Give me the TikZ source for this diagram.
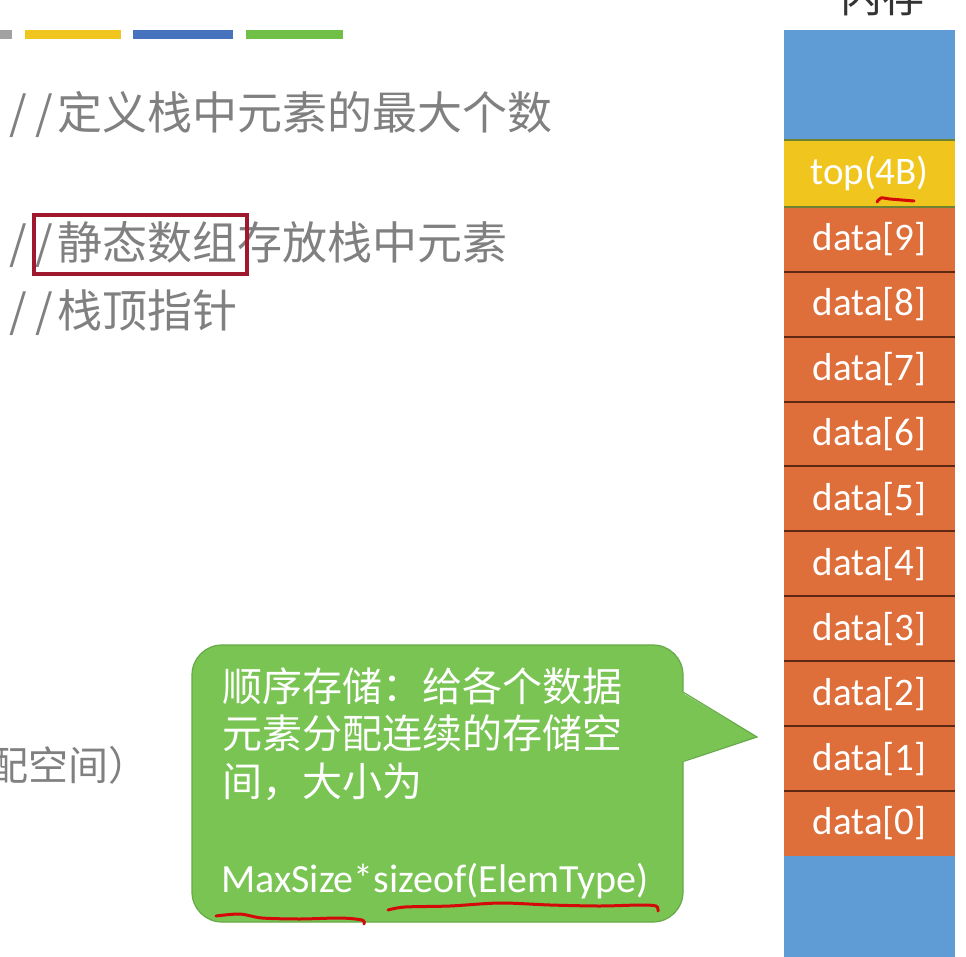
\documentclass[tikz,border=0pt]{standalone}
\usepackage{fontspec}
\usepackage{tikz}
\usetikzlibrary{calc}
\setmainfont{Carlito}
\newfontfamily\cjk{Noto Sans CJK SC}
\definecolor{memblue}{RGB}{95, 155, 212}
\definecolor{memyellow}{RGB}{240, 198, 30}
\definecolor{memorange}{RGB}{222, 110, 58}
\definecolor{sepdark}{RGB}{95, 40, 18}
\definecolor{sepgreen}{RGB}{110, 130, 50}
\definecolor{notegreen}{RGB}{122, 196, 84}
\definecolor{noteedge}{RGB}{100, 170, 70}
\definecolor{textgray}{RGB}{128, 128, 128}
\definecolor{boxred}{RGB}{160, 24, 45}
\definecolor{penred}{RGB}{212, 10, 10}
\definecolor{barblue}{RGB}{70, 114, 190}
\definecolor{bargreen}{RGB}{112, 192, 72}
\newcommand{\cmtmark}{\makebox[26pt]{/}\makebox[26pt]{/}}
\tikzset{
  cell/.style={minimum width=171pt, minimum height=64.9pt, inner sep=0pt,
    text=white, font=\fontsize{39}{39}\selectfont},
  code/.style={text=textgray, inner sep=0pt, anchor=base west,
    font=\cjk\fontsize{45}{45}\selectfont},
  notetext/.style={text=white, inner sep=0pt, anchor=base west,
    font=\cjk\fontsize{40}{40}\selectfont},
  pen/.style={penred, line width=3pt, line cap=round}
}

\begin{document}
\begin{tikzpicture}[x=1pt, y=-1pt]

  \useasboundingbox[fill=white] (0, 0) rectangle (966, 957);

  \fill[black!37] (0, 30) rectangle (12, 39);
  \fill[memyellow] (25, 30) rectangle (121, 39);
  \fill[barblue] (133, 30) rectangle (233, 39);
  \fill[bargreen] (246, 30) rectangle (343, 39);

  \node[code] (c1) at (5, 130) {\cmtmark 定义栈中元素的最大个数};
  \node[code] (c2) at (5, 260) {\cmtmark 静态数组存放栈中元素};
  \node[code] (c3) at (5, 327) {\cmtmark 栈顶指针};
  \node[draw=boxred, line width=4pt, minimum width=213pt, minimum height=59pt,
    inner sep=0pt] (hl) at (140.5, 244.5) {};
  \node[code, font=\cjk\fontsize{40}{40}\selectfont] (c4) at (-12, 780) {配空间）};

  \node[anchor=base, inner sep=0pt, text=black!80,
    font=\cjk\fontsize{42}{42}\selectfont] (mem) at (882, 13) {内存};

  \node[cell, fill=memblue, minimum height=110pt] (free) at (869.5, 85) {};
  \node[cell, fill=memyellow, minimum height=67pt] (top) at (869.5, 173.5) {top(4B)};
  \foreach \i in {0,...,9}
    \node[cell, fill=memorange] (d\i) at (869.5, {856-64.9*(\i+0.5)}) {data[\i]};
  \node[cell, fill=memblue, minimum height=120pt] (rest) at (869.5, 916) {};

  \foreach \i in {0,...,8}
    \draw[sepdark, line width=2pt] (d\i.north west) -- (d\i.north east);
  \draw[sepgreen, line width=1.5pt] (top.north west) -- (top.north east);
  \draw[sepgreen, line width=1.5pt] (top.south west) -- (top.south east);

  \node[fill=notegreen, draw=noteedge, line width=1.2pt, rounded corners=30pt,
    minimum width=491pt, minimum height=277pt] (note) at (437.5, 783.5) {};
  \coordinate (tip) at (757, 737);
  \fill[notegreen] ($(note.north east)+(-2, 48)$) -- (tip)
    -- ($(note.north east)+(-2, 117)$) -- cycle;
  \draw[noteedge, line width=1.2pt] ($(note.north east)+(0, 48)$) -- (tip)
    -- ($(note.north east)+(0, 117)$);

  \foreach \txt [count=\k] in {顺序存储：给各个数据, 元素分配连续的存储空, 间，大小为}
    \node[notetext] (line\k) at (222, {653.5+47.5*\k}) {\txt};
  \node[notetext, font=\fontsize{40}{40}\selectfont] (size) at (221, 892)
    {MaxSize*sizeof(ElemType)};

  \draw[pen] plot[smooth] coordinates {(877, 202) (881, 198) (890, 199) (902, 200) (914, 201)};
  \draw[pen] plot[smooth] coordinates {(216, 916) (240, 914) (262, 918) (300, 919)
    (340, 918) (362, 920) (364, 924)};
  \draw[pen] plot[smooth] coordinates {(388, 910) (405, 907) (450, 906) (500, 903)
    (550, 905) (600, 906) (640, 905) (656, 906) (658, 911)};

\end{tikzpicture}
\end{document}
